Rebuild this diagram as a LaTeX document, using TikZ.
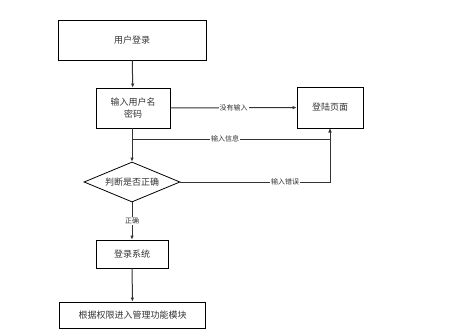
\documentclass[tikz,border=0pt]{standalone}
\usepackage{fontspec}
\newfontfamily\cjk{Noto Sans CJK SC}
\usetikzlibrary{shapes.geometric, arrows.meta}

\begin{document}
\begin{tikzpicture}[x=1pt, y=-1pt,
    box/.style={draw, thick, rectangle, font=\cjk\fontsize{9}{12}\selectfont,
      text=black!80, inner sep=0pt},
    edgelabel/.style={fill=white, inner sep=1pt, text=black!80,
      font=\cjk\fontsize{7}{8}\selectfont},
    line/.style={line width=1pt, black!80},
    arrow/.style={line, -{Latex[length=4pt, width=3.5pt]}}]
        \useasboundingbox (0, 0) rectangle (462, 335);
        \node[box, minimum width=148pt, minimum height=40pt] (login) at (132, 40) {用户登录};
        \node[box, minimum width=74pt, minimum height=40pt, align=center] (input) at (133, 108)
          {输入用户名\\密码};
        \node[box, minimum width=66pt, minimum height=41pt] (page) at (330, 107.5) {登陆页面};
        \node[box, diamond, aspect=2.4, minimum width=96pt, minimum height=40pt] (judge)
          at (132, 182) {判断是否正确};
        \node[box, minimum width=72pt, minimum height=28pt] (sys) at (132, 254) {登录系统};
        \node[box, minimum width=146pt, minimum height=26pt] (module) at (132.5, 315)
          {根据权限进入管理功能模块};
        \coordinate (split) at (132, 139);

        \draw[arrow] (login) -- (input);
        \draw[arrow] (input) -- node[edgelabel] {没有输入} (page);
        \draw[arrow] (input.south -| split) -- (judge.north);
        \draw[arrow] (split) -- node[edgelabel, pos=0.47] {输入信息} (page.south |- split)
          -- (page.south);
        \draw[arrow] (judge.east) -- node[edgelabel, pos=0.7] {输入错误} (page.south |- judge)
          -- (page.south);
        \draw[arrow] (judge.south) -- node[edgelabel] {正确} (sys.north);
        \draw[arrow] (sys) -- (module);
      \end{tikzpicture}
\end{document}
